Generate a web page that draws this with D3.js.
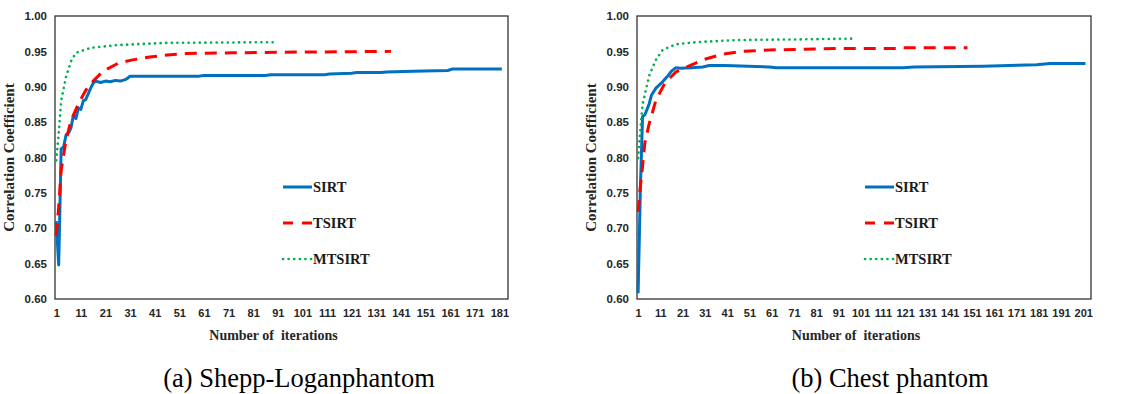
<!DOCTYPE html>
<html>
<head>
<meta charset="utf-8">
<script src="https://cdn.jsdelivr.net/npm/d3@7"></script>
<style>
  body { margin: 0; background: #fff; }
  svg { display: block; }
</style>
</head>
<body>
<svg id="chart" width="1140" height="394"></svg>
<script>
// series: [iteration, correlation]
const sirtA = [[1,0.710],[2,0.648],[3,0.812],[4,0.815],[5,0.832],[6,0.835],[7,0.842],[8,0.860],[9,0.855],[10,0.870],[11,0.868],[12,0.880],[13,0.882],[14,0.890],[15,0.898],[16,0.905],[17,0.908],[19,0.906],[21,0.908],[23,0.907],[25,0.909],[27,0.908],[29,0.910],[30,0.912],[31,0.915],[40,0.915],[59,0.915],[61,0.916],[86,0.916],[88,0.917],[110,0.917],[112,0.918],[121,0.919],[123,0.920],[133,0.920],[135,0.921],[146,0.922],[160,0.923],[162,0.925],[182,0.925]];
const tsirtA = [[1,0.690],[2,0.730],[3,0.782],[5,0.825],[7,0.852],[10,0.876],[13,0.895],[16,0.908],[20,0.922],[26,0.933],[32,0.938],[39,0.942],[46,0.945],[54,0.947],[73,0.948],[100,0.949],[137,0.950]];
const mtsirtA = [[1,0.796],[2,0.834],[3,0.880],[5,0.914],[7,0.936],[9,0.948],[15,0.955],[26,0.959],[46,0.962],[89,0.963]];

const sirtB = [[1,0.608],[2,0.754],[3,0.858],[4,0.860],[6,0.876],[7,0.888],[9,0.898],[12,0.907],[14,0.914],[16,0.922],[18,0.927],[20,0.926],[25,0.927],[30,0.928],[33,0.930],[40,0.930],[60,0.928],[63,0.927],[120,0.927],[125,0.928],[156,0.929],[180,0.931],[186,0.933],[202,0.933]];
const tsirtB = [[1,0.723],[2,0.759],[3,0.787],[4,0.820],[6,0.848],[9,0.881],[13,0.905],[18,0.921],[23,0.928],[30,0.938],[39,0.946],[48,0.950],[60,0.952],[90,0.954],[117,0.954],[120,0.955],[149,0.955]];
const mtsirtB = [[1,0.799],[2,0.840],[3,0.875],[6,0.916],[9,0.938],[12,0.952],[18,0.960],[27,0.963],[45,0.966],[75,0.967],[97,0.968]];

const seriesNames = ['SIRT', 'TSIRT', 'MTSIRT'];
const yTicks = [0.60, 0.65, 0.70, 0.75, 0.80, 0.85, 0.90, 0.95, 1.00];
const xTicksA = d3.range(1, 182, 10);
const xTicksB = d3.range(1, 202, 10);
const captions = ['(a) Shepp-Loganphantom', '(b) Chest phantom'];

const serif = "'Liberation Serif', 'Times New Roman', serif";
const sans = "'Liberation Sans', Arial, sans-serif";

const styles = [
  { color: '#0070C0', width: 3, dash: null, cap: 'butt' },
  { color: '#FF0000', width: 3, dash: '12,8', cap: 'butt' },
  { color: '#00B050', width: 2.6, dash: '0.1,5.5', cap: 'round' }
];

const svg = d3.select('#chart');

const panels = [
  { x0: 55, x1: 508, n: 184, ticks: xTicksA, data: [sirtA, tsirtA, mtsirtA], caption: captions[0], capX: 299 },
  { x0: 637, x1: 1091, n: 204, ticks: xTicksB, data: [sirtB, tsirtB, mtsirtB], caption: captions[1], capX: 890 }
];

const plotTop = 16, plotBottom = 299;

panels.forEach(p => {
  const g = svg.append('g');
  const x = d3.scaleLinear().domain([0.5, p.n + 0.5]).range([p.x0, p.x1]);
  const y = d3.scaleLinear().domain([0.6, 1.0]).range([plotBottom, plotTop]);

  // y axis labels
  const yAxis = d3.axisLeft(y).tickValues(yTicks).tickFormat(d3.format('.2f')).tickSize(0).tickPadding(8);
  g.append('g')
    .attr('transform', 'translate(' + p.x0 + ',0)')
    .call(yAxis)
    .call(s => s.select('.domain').remove())
    .selectAll('text')
    .attr('font-family', sans)
    .attr('font-weight', 'bold')
    .attr('font-size', 11.5)
    .attr('fill', '#262626');

  // x axis labels
  const xAxis = d3.axisBottom(x).tickValues(p.ticks).tickFormat(d3.format('d')).tickSize(0).tickPadding(10);
  g.append('g')
    .attr('transform', 'translate(0,' + plotBottom + ')')
    .call(xAxis)
    .call(s => s.select('.domain').remove())
    .selectAll('text')
    .attr('font-family', sans)
    .attr('font-weight', 'bold')
    .attr('font-size', 11)
    .attr('fill', '#262626');

  // plot frame
  g.append('rect')
    .attr('x', p.x0).attr('y', plotTop)
    .attr('width', p.x1 - p.x0).attr('height', plotBottom - plotTop)
    .attr('fill', 'none')
    .attr('stroke', '#333')
    .attr('stroke-width', 1.3);

  const line = d3.line().x(d => x(d[0])).y(d => y(d[1]));

  p.data.forEach((ser, i) => {
    const st = styles[i];
    g.append('path')
      .datum(ser)
      .attr('fill', 'none')
      .attr('stroke', st.color)
      .attr('stroke-width', st.width)
      .attr('stroke-linecap', st.cap)
      .attr('stroke-linejoin', 'round')
      .attr('stroke-dasharray', st.dash)
      .attr('d', line);
  });

  // legend
  const lx = p.x0 + 228;
  seriesNames.forEach((name, i) => {
    const st = styles[i];
    const ly = 187 + i * 36;
    g.append('line')
      .attr('x1', lx).attr('x2', lx + 29)
      .attr('y1', ly).attr('y2', ly)
      .attr('stroke', st.color)
      .attr('stroke-width', st.width)
      .attr('stroke-linecap', st.cap)
      .attr('stroke-dasharray', i === 1 ? '10,9' : st.dash);
    g.append('text')
      .attr('x', lx + 30).attr('y', ly + 5)
      .attr('font-family', serif)
      .attr('font-weight', 'bold')
      .attr('font-size', 14.5)
      .attr('fill', '#1a1a1a')
      .text(name);
  });

  // axis titles
  g.append('text')
    .attr('transform', 'translate(' + (p.x0 - 41) + ',' + ((plotTop + plotBottom) / 2) + ') rotate(-90)')
    .attr('text-anchor', 'middle')
    .attr('font-family', serif)
    .attr('font-weight', 'bold')
    .attr('font-size', 15)
    .attr('fill', '#262626')
    .text('Correlation Coefficient');

  g.append('text')
    .attr('x', (p.x0 + p.x1) / 2 - 8).attr('y', 340)
    .attr('text-anchor', 'middle')
    .attr('font-family', serif)
    .attr('font-weight', 'bold')
    .attr('font-size', 14)
    .attr('fill', '#262626')
    .style('white-space', 'pre')
    .text('Number of  iterations');

  // caption
  g.append('text')
    .attr('x', p.capX).attr('y', 387)
    .attr('text-anchor', 'middle')
    .attr('font-family', serif)
    .attr('font-size', 26.5)
    .attr('fill', '#000')
    .text(p.caption);
});
</script>
</body>
</html>
